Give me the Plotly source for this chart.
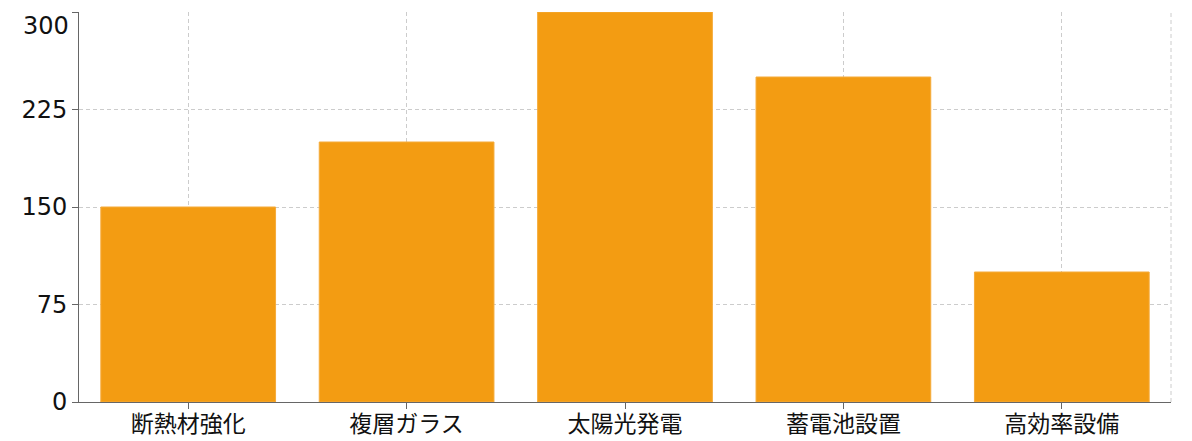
import plotly.graph_objects as go

categories = ["断熱材強化", "複層ガラス", "太陽光発電", "蓄電池設置", "高効率設備"]
values = [150, 200, 300, 250, 100]
y_ticks = [0, 75, 150, 225, 300]

fig = go.Figure(go.Bar(
    x=categories,
    y=values,
    marker=dict(color="#F39C12", line=dict(color="#F5AB3A", width=1)),
    hoverinfo="x+y",
))

# the top label sits just under its tick so it is not cut by the page edge
tick_text = [str(v) for v in y_ticks[:-1]] + [""]

fig.update_layout(
    width=1192, height=441,
    margin=dict(l=79, r=21, t=12, b=39),
    paper_bgcolor="white", plot_bgcolor="white",
    font=dict(family="DejaVu Sans, Noto Sans CJK JP, sans-serif", size=24, color="#111"),
    bargap=0.2,
    showlegend=False,
    shapes=[dict(type="line", xref="paper", yref="paper", x0=1, x1=1, y0=0, y1=1,
                 line=dict(color="#cccccc", width=1, dash="4px,3px"))],
    annotations=[dict(text=str(y_ticks[-1]), xref="paper", yref="y", x=0, y=y_ticks[-1],
                      xanchor="right", yanchor="top", xshift=-8, yshift=2,
                      showarrow=False, font=dict(size=24))],
)

fig.update_xaxes(
    automargin=False,
    showgrid=True, gridcolor="#cccccc", griddash="4px,3px", gridwidth=1,
    showline=True, linecolor="#666666", linewidth=1,
    ticks="outside", ticklen=6, tickcolor="#666666",
    tickfont=dict(family="Noto Sans CJK JP, sans-serif", size=23),
    ticklabelstandoff=-5,
)
fig.update_yaxes(
    automargin=False,
    range=[0, 300], tickvals=y_ticks, ticktext=tick_text,
    showgrid=True, gridcolor="#cccccc", griddash="4px,3px", gridwidth=1,
    showline=True, linecolor="#666666", linewidth=1,
    ticks="outside", ticklen=6, tickcolor="#666666",
    zeroline=False,
)

# page body has a default 8px margin; drop it so the figure sits at the corner
fig.write_html("out.html", config={"displayModeBar": False},
               post_script="document.body.style.margin='0';")
